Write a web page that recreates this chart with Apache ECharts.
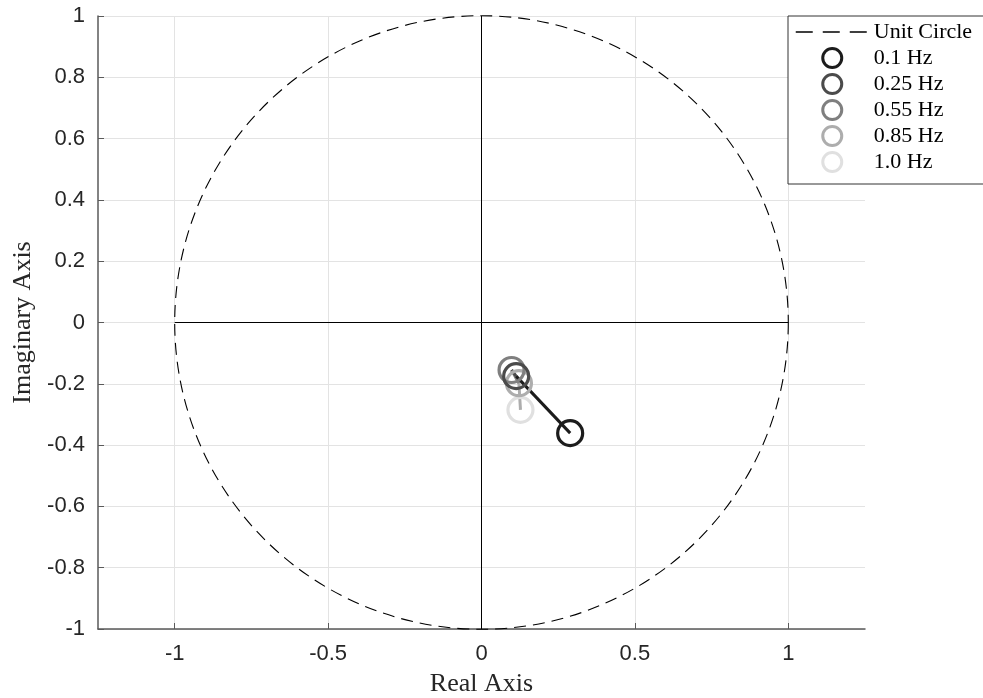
<!DOCTYPE html>
<html>
<head>
<meta charset="utf-8">
<script src="https://cdn.jsdelivr.net/npm/echarts@6/dist/echarts.min.js"></script>
<style>
html,body{margin:0;padding:0;background:#fff;}
#main{width:983px;height:698px;}
</style>
</head>
<body>
<div id="main"></div>
<script>
// frequencies and the pole positions
var freqNames = ['0.1 Hz', '0.25 Hz', '0.55 Hz', '0.85 Hz', '1.0 Hz'];
var freqColors = ['#1c1c1c', '#4b4b4b', '#7f7f7f', '#adadad', '#e0e0e0'];
var realPart = [0.289, 0.113, 0.098, 0.122, 0.127];
var imagPart = [-0.361, -0.175, -0.155, -0.198, -0.285];
var unitCircle = [[0, 0, 1]]; // center x, center y, radius
var xTicks = [-1, -0.5, 0, 0.5, 1];
var yTicks = [-1, -0.8, -0.6, -0.4, -0.2, 0, 0.2, 0.4, 0.6, 0.8, 1];

var chart = echarts.init(document.getElementById('main'));

var series = [];
// unit circle (dashed)
series.push({
	name: 'circle',
	type: 'custom',
	data: unitCircle,
	encode: {x: 0, y: 1},
	silent: true,
	z: 1,
	renderItem: function(params, api){
		var c = api.coord([api.value(0), api.value(1)]);
		var r = api.size([api.value(2), 0])[0];
		return {
			type: 'circle',
			shape: {cx: c[0], cy: c[1], r: r},
			style: {fill: 'none', stroke: '#000', lineWidth: 1.1, lineDash: [12, 7]}
		};
	}
});
// legend-only entry for the dashed circle
series.push({
	name: 'Unit Circle',
	type: 'line',
	data: [],
	symbol: 'none',
	lineStyle: {color: '#000', width: 1.5, type: [17, 10]}
});
// real / imaginary axes through the origin
series.push({
	name: 'axes-h', type: 'line', data: [[-1, 0], [1, 0]], symbol: 'none', silent: true, z: 1,
	lineStyle: {color: '#000', width: 1}
});
series.push({
	name: 'axes-v', type: 'line', data: [[0, -1], [0, 1]], symbol: 'none', silent: true, z: 1,
	lineStyle: {color: '#000', width: 1}
});
// trajectory: each frequency joined to the next one, drawn last to first
for(var i = freqNames.length - 1; i >= 0; i--){
	var d = [{value: [realPart[i], imagPart[i]]}];
	if(i < freqNames.length - 1){
		d.push({value: [realPart[i+1], imagPart[i+1]], symbol: 'none'});
	}
	series.push({
		name: freqNames[i],
		type: 'line',
		data: d,
		symbol: 'circle',
		symbolSize: 25,
		z: 3,
		lineStyle: {color: freqColors[i], width: 3},
		itemStyle: {color: 'rgba(0,0,0,0)', borderColor: freqColors[i], borderWidth: 3.2}
	});
}

var legendData = [{name: 'Unit Circle', itemStyle: {opacity: 0}, lineStyle: {color: '#000', width: 1.5, type: [17, 10]}}];
for(var j = 0; j < freqNames.length; j++){
	legendData.push({
		name: freqNames[j],
		icon: 'circle',
		itemStyle: {color: 'rgba(0,0,0,0)', borderColor: freqColors[j], borderWidth: 3}
	});
}

var option = {
	animation: false,
	backgroundColor: '#fff',
	grid: {left: 98, right: 118, top: 16, bottom: 69, containLabel: false, outerBoundsMode: 'none'},
	legend: {
		data: legendData,
		orient: 'vertical',
		left: 788,
		top: 16,
		itemWidth: 73,
		itemHeight: 19,
		itemGap: 4,
		padding: [5, 12, 11, 7],
		borderColor: '#333',
		borderWidth: 1,
		backgroundColor: '#fff',
		textStyle: {fontFamily: 'Liberation Serif', fontSize: 22, lineHeight: 19, color: '#000'},
		selectedMode: false
	},
	xAxis: {
		type: 'value',
		min: -1.25,
		max: 1.25,
		name: 'Real Axis',
		nameLocation: 'middle',
		nameGap: 42,
		nameTextStyle: {fontFamily: 'Liberation Serif', fontSize: 26, color: '#262626'},
		axisLine: {onZero: false, lineStyle: {color: '#5a5a5a', width: 1.5}},
		axisTick: {inside: true, length: 6, customValues: xTicks, lineStyle: {color: '#5a5a5a'}},
		axisLabel: {customValues: xTicks, margin: 14, fontFamily: 'Liberation Sans', fontSize: 22, color: '#262626'},
		splitLine: {show: true, lineStyle: {color: '#e3e3e3', width: 1}}
	},
	yAxis: {
		type: 'value',
		min: -1,
		max: 1,
		name: 'Imaginary Axis',
		nameLocation: 'middle',
		nameGap: 60,
		nameTextStyle: {fontFamily: 'Liberation Serif', fontSize: 26, color: '#262626'},
		axisLine: {show: true, onZero: false, lineStyle: {color: '#5a5a5a', width: 1.5}},
		axisTick: {show: true, inside: true, length: 6, customValues: yTicks, lineStyle: {color: '#5a5a5a'}},
		axisLabel: {customValues: yTicks, margin: 13, fontFamily: 'Liberation Sans', fontSize: 22, color: '#262626'},
		splitLine: {show: true, lineStyle: {color: '#e3e3e3', width: 1}}
	},
	series: series
};
chart.setOption(option);
</script>
</body>
</html>
